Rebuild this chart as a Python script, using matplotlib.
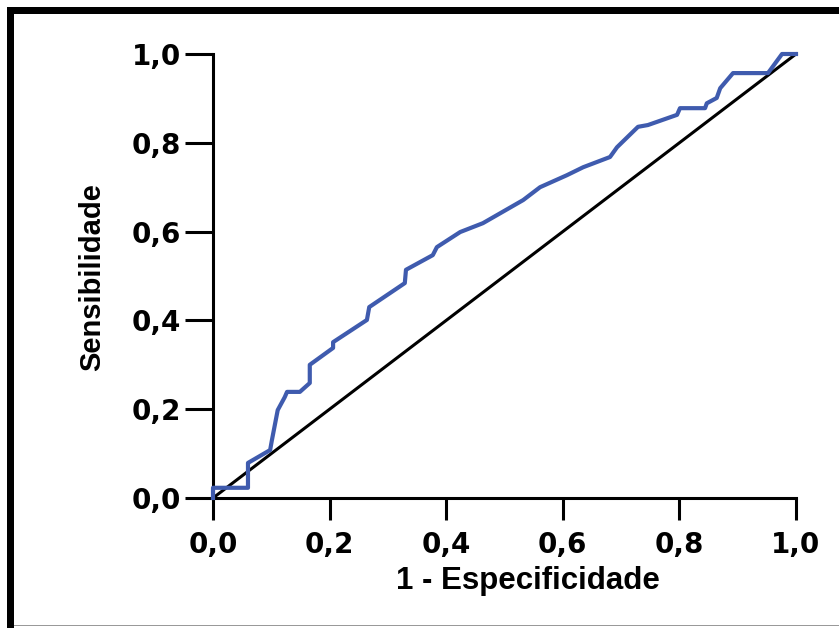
import matplotlib
matplotlib.use("Agg")
import matplotlib.pyplot as plt
from matplotlib.patches import Rectangle

# ROC curve data (1 - specificity, sensitivity)
fpr = [0, 0, 0.060, 0.060, 0.098, 0.101, 0.111, 0.123, 0.127, 0.149, 0.166, 0.166,
       0.206, 0.206, 0.264, 0.268, 0.329, 0.331, 0.377, 0.384, 0.424, 0.463, 0.532,
       0.561, 0.607, 0.635, 0.681, 0.693, 0.729, 0.746, 0.796, 0.801, 0.844, 0.847,
       0.864, 0.870, 0.892, 0.952, 0.976, 1.0]
tpr = [0, 0.023, 0.023, 0.079, 0.108, 0.130, 0.198, 0.227, 0.239, 0.239, 0.259, 0.300,
       0.338, 0.351, 0.401, 0.430, 0.484, 0.514, 0.547, 0.565, 0.599, 0.619, 0.671,
       0.700, 0.727, 0.745, 0.768, 0.790, 0.836, 0.840, 0.863, 0.878, 0.878, 0.889,
       0.901, 0.923, 0.957, 0.957, 1.0, 1.0]
ref_x = [0, 1]
ref_y = [0, 1]
ticks = [0, 0.2, 0.4, 0.6, 0.8, 1.0]
tick_labels = ["0,0", "0,2", "0,4", "0,6", "0,8", "1,0"]

W, H = 839, 628
fig = plt.figure(figsize=(W / 100, H / 100), dpi=100)
fig.patch.set_facecolor("white")

# frame border
fig.patches.append(Rectangle((7 / W, 0), 7 / W, 1 - 7 / H, transform=fig.transFigure,
                             facecolor="black", edgecolor="none"))
fig.patches.append(Rectangle((7 / W, 1 - 14 / H), 1 - 7 / W, 7 / H, transform=fig.transFigure,
                             facecolor="black", edgecolor="none"))
fig.patches.append(Rectangle((14 / W, 2 / H), 1, 1.2 / H, transform=fig.transFigure,
                             facecolor="#999999", edgecolor="none"))

ax = fig.add_axes([213 / W, 1 - 498 / H, (796 - 213) / W, (498 - 54) / H])
ax.plot(ref_x, ref_y, color="black", lw=2.2, clip_on=False, zorder=2)
ax.plot(fpr, tpr, color="#3F5BAE", lw=3.0, clip_on=False, zorder=3)

ax.set_xlim(0, 1)
ax.set_ylim(0, 1)
for s in ["top", "right"]:
    ax.spines[s].set_visible(False)
for s in ["left", "bottom"]:
    ax.spines[s].set_linewidth(2.2)

ax.set_xticks(ticks)
ax.set_yticks(ticks)
tick_font = dict(family="DejaVu Sans", weight="bold", size=20)
ax.set_xticklabels(tick_labels, fontdict=tick_font)
ax.set_yticklabels(tick_labels, fontdict=tick_font)
ax.tick_params(axis="x", length=16, width=2.2, pad=8, direction="out")
ax.tick_params(axis="y", length=20, width=2.2, pad=3, direction="out")

ax.set_xlabel("1 - Especificidade", family="Liberation Sans", weight="bold",
              size=22.5, va="center", ha="center")
ax.xaxis.set_label_coords(0.54, -0.187)
ax.set_ylabel("Sensibilidade", family="Liberation Sans", weight="bold",
              size=21, va="center", ha="center")
ax.yaxis.set_label_coords(-0.208, 0.498)

fig.savefig("out.png", dpi=100, facecolor="white")
